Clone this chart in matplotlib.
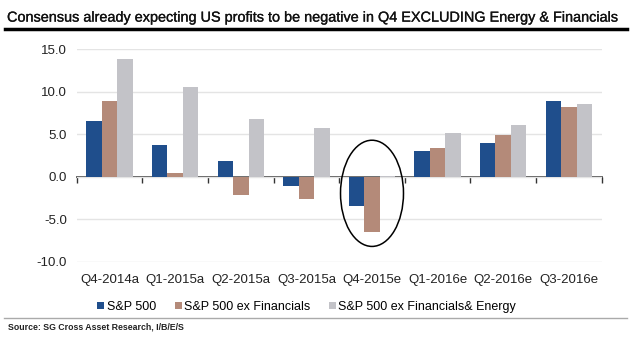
import numpy as np
import matplotlib.pyplot as plt
import matplotlib.patheffects as pe
from matplotlib.patches import Ellipse

quarters = ['Q4-2014a', 'Q1-2015a', 'Q2-2015a', 'Q3-2015a',
            'Q4-2015e', 'Q1-2016e', 'Q2-2016e', 'Q3-2016e']
sp500 = [6.6, 3.7, 1.8, -1.1, -3.4, 3.0, 4.0, 8.9]
ex_fin = [8.9, 0.5, -2.1, -2.6, -6.5, 3.4, 4.9, 8.2]
ex_fin_energy = [13.9, 10.6, 6.8, 5.7, 0.1, 5.2, 6.1, 8.6]
series_names = ['S&P 500', 'S&P 500 ex Financials', 'S&P 500 ex Financials& Energy']
colors = ['#1f4e8c', '#b48a79', '#c3c3c8']

plt.rcParams['font.family'] = ['Liberation Sans', 'DejaVu Sans']

fig = plt.figure(figsize=(6.4, 3.6), dpi=100)
ax = fig.add_axes([0.12, 0.273, 0.82, 0.59])

x = np.arange(len(quarters))
w = 0.236
for i, (vals, name) in enumerate(zip([sp500, ex_fin, ex_fin_energy], series_names)):
    ax.bar(x + (i - 1) * w, vals, w, color=colors[i], label=name, zorder=3)

ax.set_xlim(-0.5, len(quarters) - 0.5)
ax.set_ylim(-10, 15)
ax.set_yticks([-10, -5, 0, 5, 10, 15])
ax.set_yticklabels(['%.1f' % v for v in [-10, -5, 0, 5, 10, 15]])
ax.set_xticks(x)
ax.set_xticklabels(quarters)
ax.tick_params(axis='both', length=0, labelsize=9.5, colors='#222222', pad=7)
ax.tick_params(axis='x', pad=9)
for s in ax.spines.values():
    s.set_visible(False)
ax.grid(axis='y', color='#e4e4e4', linewidth=1, zorder=0)

# zero axis with category boundary ticks
sec = ax.secondary_xaxis(0.4)
sec.set_xticks(np.arange(len(quarters) + 1) - 0.5)
sec.set_xticklabels([])
sec.tick_params(axis='x', length=4, width=1, color='#333333', direction='out')
sec.spines['bottom'].set_color('#333333')
sec.spines['bottom'].set_linewidth(1.2)
sec.spines['bottom'].set_zorder(4)

# circle around Q4-2015e
ax.add_patch(Ellipse((4, -1.95), 0.96, 12.5, fill=False, edgecolor='black',
                     linewidth=1.1, zorder=5, clip_on=False))

fig.text(0.011, 0.951, 'Consensus already expecting US profits to be negative in Q4 EXCLUDING Energy & Financials',
         fontsize=10.4, color='#111111', va='center', ha='left',
         path_effects=[pe.withStroke(linewidth=0.2, foreground='#111111')])
fig.add_artist(plt.Line2D([0.008, 0.98], [0.919, 0.919], color='black', linewidth=2.5))

leg = fig.legend(loc='center left', bbox_to_anchor=(0.152, 0.147), ncol=3, frameon=False,
                 fontsize=9, handlelength=0.55, handleheight=0.55, handletextpad=0.2,
                 columnspacing=1.5, borderaxespad=0, borderpad=0)

fig.add_artist(plt.Line2D([0.006, 0.98], [0.116, 0.116], color='#aaaaaa', linewidth=1))
fig.text(0.012, 0.092, 'Source: SG Cross Asset Research, I/B/E/S', fontsize=6.3,
         fontweight='bold', color='#222222', va='center', ha='left')

fig.savefig('out.png', dpi=100)
